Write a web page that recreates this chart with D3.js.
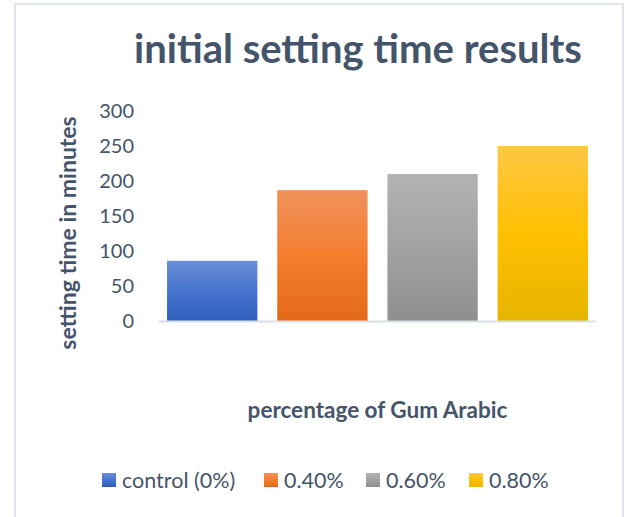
<!DOCTYPE html>
<html>
<head>
<meta charset="utf-8">
<script src="https://cdn.jsdelivr.net/npm/d3@7"></script>
<style>
  body { margin: 0; background: #fff; }
  svg { display: block; font-family: Lato, "Open Sans", sans-serif; }
  .tick text { fill: #44546a; font-size: 20px; }
</style>
</head>
<body>
<svg id="chart"></svg>
<script>
const WIDTH = 624;
const HEIGHT = 517;

// data
const categories = ["control (0%)", "0.40%", "0.60%", "0.80%"];
const settingTimes = [86, 187, 210, 250];
const yTicks = [0, 50, 100, 150, 200, 250, 300];
const gradients = [
  ["#6a8fd6", "#4674cf", "#2f5fbd"],
  ["#f0925c", "#f47e2e", "#e36a18"],
  ["#b3b3b3", "#a2a2a2", "#8f8f8f"],
  ["#ffc745", "#ffc000", "#e6b400"],
];

const TEXT = "#44546a";
const plot = { left: 159, right: 596, top: 111, bottom: 321 };

const svg = d3.select("#chart").attr("width", WIDTH).attr("height", HEIGHT);

// chart frame
svg
  .append("rect")
  .attr("x", 15)
  .attr("y", 4)
  .attr("width", 608)
  .attr("height", 600)
  .attr("fill", "none")
  .attr("stroke", "#dde3ea")
  .attr("stroke-width", 2);

const defs = svg.append("defs");
gradients.forEach((stops, i) => {
  const g = defs
    .append("linearGradient")
    .attr("id", `grad-${i}`)
    .attr("x1", 0)
    .attr("y1", 0)
    .attr("x2", 0)
    .attr("y2", 1);
  g.selectAll("stop")
    .data(stops)
    .join("stop")
    .attr("offset", (d, j) => j / (stops.length - 1))
    .attr("stop-color", (d) => d);
});

const x = d3
  .scaleBand()
  .domain(categories)
  .range([plot.left, plot.right])
  .paddingInner(0.18)
  .paddingOuter(0.073);

const y = d3.scaleLinear().domain([0, 300]).range([plot.bottom, plot.top]);

// y axis labels only
const yAxis = svg
  .append("g")
  .attr("transform", "translate(134,0)")
  .call(d3.axisLeft(y).tickValues(yTicks).tickSize(0).tickPadding(0));
yAxis.select(".domain").remove();
yAxis.selectAll(".tick text").attr("font-family", "Lato, sans-serif");

// bars
svg
  .append("g")
  .selectAll("rect")
  .data(settingTimes)
  .join("rect")
  .attr("x", (d, i) => x(categories[i]))
  .attr("y", (d) => y(d))
  .attr("width", x.bandwidth())
  .attr("height", (d) => y(0) - y(d))
  .attr("fill", (d, i) => `url(#grad-${i})`);

// baseline
svg
  .append("line")
  .attr("x1", plot.left)
  .attr("x2", plot.right)
  .attr("y1", y(0) + 0.5)
  .attr("y2", y(0) + 0.5)
  .attr("stroke", "#dadfe6")
  .attr("stroke-width", 2);

// title
svg
  .append("text")
  .attr("x", 358)
  .attr("y", 63)
  .attr("text-anchor", "middle")
  .attr("font-size", 40)
  .attr("font-weight", "bold")
  .attr("fill", TEXT)
  .text("initial setting time results");

// axis titles
svg
  .append("text")
  .attr("x", (plot.left + plot.right) / 2)
  .attr("y", 418)
  .attr("text-anchor", "middle")
  .attr("font-size", 22.5)
  .attr("font-weight", "bold")
  .attr("fill", TEXT)
  .text("percentage of Gum Arabic");

svg
  .append("text")
  .attr("transform", "translate(76,233) rotate(-90)")
  .attr("text-anchor", "middle")
  .attr("font-size", 23)
  .attr("font-weight", "bold")
  .attr("fill", TEXT)
  .text("setting time in minutes");

// legend
const legendX = [102, 264, 366, 469];
const legend = svg
  .append("g")
  .selectAll("g")
  .data(categories)
  .join("g")
  .attr("transform", (d, i) => `translate(${legendX[i]},473)`);
legend
  .append("rect")
  .attr("width", 14)
  .attr("height", 14)
  .attr("fill", (d, i) => `url(#grad-${i})`);
legend
  .append("text")
  .attr("x", 20)
  .attr("y", 15)
  .attr("font-size", 21.5)
  .attr("fill", TEXT)
  .text((d) => d);
</script>
</body>
</html>
